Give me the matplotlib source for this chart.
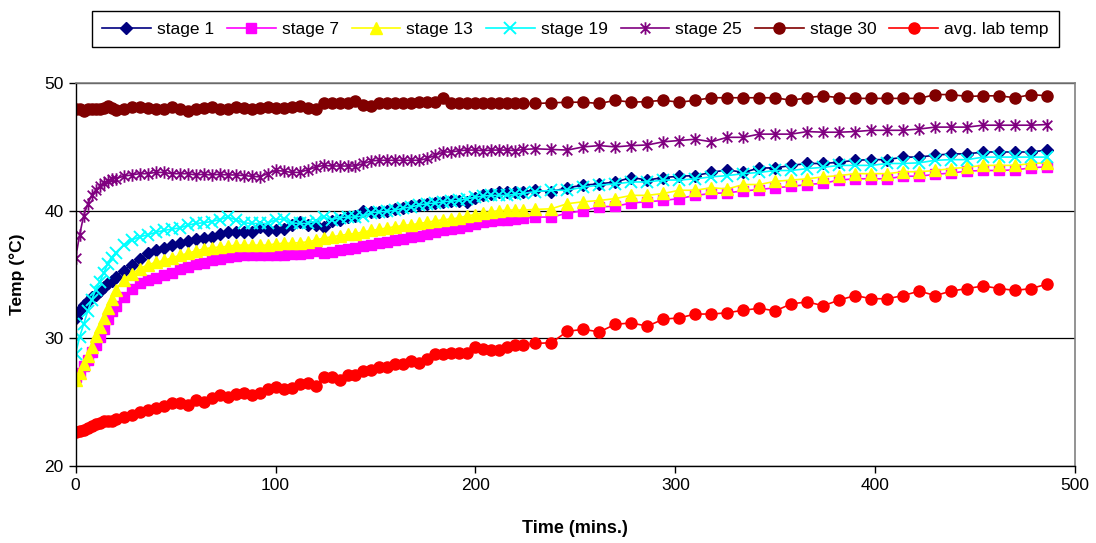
import matplotlib
matplotlib.use("Agg")
import matplotlib.pyplot as plt
from matplotlib.path import Path

plt.rcParams["font.family"] = ["Liberation Sans", "DejaVu Sans"]

# sample times (mins.)
times = [0, 2, 4, 6, 8, 10, 12, 14, 16, 18, 20,
         24, 28, 32, 36, 40, 44, 48, 52, 56, 60, 64, 68, 72, 76, 80, 84, 88, 92, 96, 100,
         104, 108, 112, 116, 120, 124, 128, 132, 136, 140, 144, 148, 152, 156, 160, 164, 168, 172, 176, 180,
         184, 188, 192, 196, 200, 204, 208, 212, 216, 220, 224,
         230, 238, 246, 254, 262, 270, 278, 286, 294, 302, 310, 318, 326, 334, 342, 350, 358,
         366, 374, 382, 390, 398, 406, 414, 422, 430, 438, 446, 454, 462, 470, 478, 486]

stage1 = [31.6, 32.2, 32.6, 32.9, 33.2, 33.4, 33.7, 34.0, 34.3, 34.5, 34.8,
          35.3, 35.75, 36.2, 36.65, 36.9, 37.1, 37.3, 37.5, 37.65, 37.75, 37.85, 37.95, 38.2, 38.3, 38.35, 38.3, 38.35, 38.7, 38.5, 38.5,
          38.6, 38.9, 39.1, 38.9, 38.85, 38.75, 39.2, 39.3, 39.5, 39.6, 39.95, 39.9, 39.9, 39.95, 40.1, 40.2, 40.35, 40.45, 40.55, 40.6,
          40.7, 40.75, 40.75, 40.7, 41.0, 41.2, 41.3, 41.45, 41.45, 41.45, 41.5,
          41.6, 41.5, 41.8, 42.0, 42.1, 42.25, 42.6, 42.4, 42.6, 42.7, 42.75, 43.0, 43.2, 43.0, 43.35, 43.35, 43.55,
          43.7, 43.7, 43.8, 43.95, 44.0, 44.0, 44.2, 44.2, 44.35, 44.45, 44.45, 44.6, 44.6, 44.6, 44.6, 44.75]

stage7 = [27.0, 27.3, 27.8, 28.3, 28.9, 29.5, 30.1, 30.7, 31.5, 32.1, 32.5,
          33.2, 33.9, 34.3, 34.55, 34.75, 34.95, 35.15, 35.4, 35.6, 35.8, 35.9, 36.1, 36.25, 36.4, 36.45, 36.5, 36.5, 36.5, 36.5, 36.5,
          36.55, 36.6, 36.6, 36.7, 36.85, 36.7, 36.8, 36.9, 37.0, 37.05, 37.2, 37.3, 37.45, 37.55, 37.7, 37.8, 37.95, 38.05, 38.15, 38.3,
          38.45, 38.55, 38.65, 38.8, 38.95, 39.1, 39.2, 39.3, 39.3, 39.35, 39.4,
          39.5, 39.5, 39.8, 40.0, 40.3, 40.35, 40.6, 40.7, 40.8, 40.95, 41.2, 41.35, 41.4, 41.55, 41.65, 41.8, 41.9,
          42.05, 42.15, 42.4, 42.5, 42.5, 42.5, 42.7, 42.7, 42.85, 42.95, 43.1, 43.15, 43.15, 43.2, 43.35, 43.45]

stage13 = [26.7, 27.3, 27.95, 28.6, 29.3, 30.2, 30.9, 31.6, 32.4, 33.1, 33.75,
           34.6, 35.05, 35.45, 35.75, 35.95, 36.1, 36.3, 36.5, 36.65, 36.85, 37.0, 37.1, 37.15, 37.2, 37.3, 37.3, 37.3, 37.3, 37.3, 37.4,
           37.45, 37.45, 37.5, 37.55, 37.7, 37.85, 37.95, 38.05, 38.15, 38.2, 38.35, 38.45, 38.55, 38.65, 38.75, 38.85, 38.9, 39.0, 39.1, 39.2,
           39.3, 39.35, 39.45, 39.6, 39.7, 39.85, 39.9, 40.0, 40.05, 40.05, 40.05,
           40.1, 40.15, 40.55, 40.7, 40.8, 40.95, 41.2, 41.2, 41.35, 41.6, 41.6, 41.8, 41.7, 42.05, 42.05, 42.3, 42.4,
           42.5, 42.65, 42.75, 42.9, 42.9, 42.9, 43.05, 43.05, 43.15, 43.3, 43.4, 43.55, 43.55, 43.55, 43.7, 43.75]

stage19 = [28.8, 30.1, 31.1, 32.1, 33.0, 33.8, 34.4, 35.1, 35.8, 36.3, 36.7,
           37.3, 37.7, 37.95, 38.1, 38.3, 38.45, 38.55, 38.65, 38.85, 39.0, 39.05, 39.15, 39.3, 39.5, 39.3, 39.05, 39.0, 39.0, 39.0, 39.3,
           39.35, 39.05, 39.0, 39.0, 39.2, 39.5, 39.3, 39.45, 39.5, 39.5, 39.6, 39.85, 39.9, 39.95, 40.05, 40.2, 40.3, 40.45, 40.55, 40.6,
           40.7, 40.75, 40.8, 40.95, 41.05, 41.15, 41.2, 41.2, 41.2, 41.3, 41.35,
           41.5, 41.6, 41.6, 41.85, 42.0, 42.1, 42.25, 42.25, 42.4, 42.4, 42.5, 42.65, 42.75, 42.9, 43.0, 43.15, 43.15,
           43.3, 43.4, 43.55, 43.55, 43.55, 43.7, 43.7, 43.75, 43.95, 44.0, 44.0, 44.2, 44.2, 44.2, 44.2, 44.2]

stage25 = [36.3, 38.1, 39.6, 40.5, 41.2, 41.6, 41.9, 42.2, 42.3, 42.5, 42.5,
           42.7, 42.8, 42.9, 42.9, 43.0, 43.0, 42.9, 42.9, 42.9, 42.8, 42.85, 42.8, 42.85, 42.8, 42.8, 42.75, 42.7, 42.65, 42.9, 43.15,
           43.1, 43.0, 43.0, 43.2, 43.4, 43.55, 43.5, 43.5, 43.5, 43.5, 43.7, 43.9, 43.95, 43.95, 43.95, 43.95, 43.95, 43.95, 44.1, 44.35,
           44.6, 44.6, 44.7, 44.75, 44.75, 44.7, 44.75, 44.75, 44.75, 44.7, 44.8,
           44.85, 44.8, 44.75, 45.0, 45.1, 45.0, 45.1, 45.15, 45.4, 45.5, 45.6, 45.4, 45.75, 45.75, 46.0, 46.0, 46.0,
           46.2, 46.15, 46.15, 46.2, 46.3, 46.3, 46.3, 46.4, 46.55, 46.55, 46.55, 46.7, 46.7, 46.7, 46.7, 46.75]

stage30 = [48.0, 48.0, 47.85, 47.95, 48.0, 48.0, 47.95, 48.05, 48.2, 48.05, 47.9,
           48.0, 48.1, 48.1, 48.05, 48.0, 48.0, 48.1, 47.95, 47.8, 48.0, 48.05, 48.1, 48.0, 48.0, 48.1, 48.05, 48.0, 48.05, 48.1, 48.05,
           48.05, 48.1, 48.2, 48.05, 48.0, 48.4, 48.45, 48.4, 48.45, 48.6, 48.3, 48.2, 48.4, 48.4, 48.4, 48.4, 48.45, 48.5, 48.5, 48.5,
           48.8, 48.4, 48.4, 48.4, 48.4, 48.4, 48.4, 48.4, 48.4, 48.4, 48.4,
           48.4, 48.45, 48.5, 48.5, 48.4, 48.65, 48.5, 48.55, 48.65, 48.5, 48.65, 48.85, 48.85, 48.85, 48.85, 48.85, 48.65,
           48.85, 49.0, 48.85, 48.8, 48.8, 48.8, 48.8, 48.8, 49.1, 49.1, 48.95, 49.0, 49.0, 48.85, 49.1, 49.0]

lab_temp = [22.65, 22.7, 22.85, 22.95, 23.1, 23.25, 23.4, 23.5, 23.5, 23.55, 23.65,
            23.8, 24.0, 24.2, 24.4, 24.55, 24.7, 24.9, 24.95, 24.8, 25.15, 25.0, 25.3, 25.55, 25.4, 25.65, 25.7, 25.55, 25.7, 26.0, 26.2,
            26.0, 26.1, 26.4, 26.5, 26.25, 26.95, 27.0, 26.75, 27.1, 27.1, 27.45, 27.5, 27.75, 27.75, 27.95, 27.95, 28.25, 28.1, 28.4, 28.75,
            28.75, 28.85, 28.85, 28.85, 29.35, 29.15, 29.1, 29.1, 29.35, 29.45, 29.45,
            29.6, 29.65, 30.55, 30.7, 30.5, 31.1, 31.2, 30.95, 31.5, 31.6, 31.9, 31.9, 32.0, 32.2, 32.35, 32.15, 32.7,
            32.85, 32.55, 33.0, 33.35, 33.1, 33.1, 33.35, 33.7, 33.35, 33.7, 33.9, 34.1, 33.9, 33.75, 33.9, 34.25]

labels = ["stage 1", "stage 7", "stage 13", "stage 19", "stage 25", "stage 30", "avg. lab temp"]

# Excel style asterisk marker: an x with a vertical bar through it
asterisk = Path([(-1, -1), (1, 1), (-1, 1), (1, -1), (0, -1.3), (0, 1.3)],
                [Path.MOVETO, Path.LINETO, Path.MOVETO, Path.LINETO, Path.MOVETO, Path.LINETO])

styles = [
    dict(color="#000080", marker="D", ms=6.5),
    dict(color="#FF00FF", marker="s", ms=6.5),
    dict(color="#FFFF00", marker="^", ms=8.5),
    dict(color="#00FFFF", marker="x", ms=8, mew=1.4),
    dict(color="#800080", marker=asterisk, ms=9, mew=1.3),
    dict(color="#800000", marker="o", ms=8),
    dict(color="#FF0000", marker="o", ms=8),
]

series = [stage1, stage7, stage13, stage19, stage25, stage30, lab_temp]

fig = plt.figure(figsize=(10.96, 5.43), dpi=100)
ax = fig.add_axes([0.069, 0.142, 0.912, 0.705])

for vals, lab, st in zip(series, labels, styles):
    ax.plot(times, vals, label=lab, lw=1.2, **st)

ax.set_xlim(0, 500)
ax.set_ylim(20, 50)
ax.set_xticks([0, 100, 200, 300, 400, 500])
ax.set_yticks([20, 30, 40, 50])
ax.yaxis.grid(True, color="black", lw=0.9)
ax.set_axisbelow(True)
ax.tick_params(direction="out", length=5, width=1, labelsize=12.5, colors="black")
for side in ["top", "right"]:
    ax.spines[side].set_color("#808080")
    ax.spines[side].set_linewidth(1.2)
for side in ["left", "bottom"]:
    ax.spines[side].set_color("black")
    ax.spines[side].set_linewidth(1)

ax.set_xlabel("Time (mins.)", fontsize=13, fontweight="bold", labelpad=20)
ax.set_ylabel("Temp (\u00b0C)", fontsize=12.5, fontweight="bold", labelpad=14)

handles, lbls = ax.get_legend_handles_labels()
leg = fig.legend(handles, lbls, loc="upper center", bbox_to_anchor=(0.525, 0.995), ncol=7,
                 fontsize=12.5, frameon=True, fancybox=False, framealpha=1, edgecolor="black",
                 handlelength=2.8, handletextpad=0.35, columnspacing=0.75, borderpad=0.6)
leg.get_frame().set_linewidth(1)

fig.savefig("out.png", dpi=100)
